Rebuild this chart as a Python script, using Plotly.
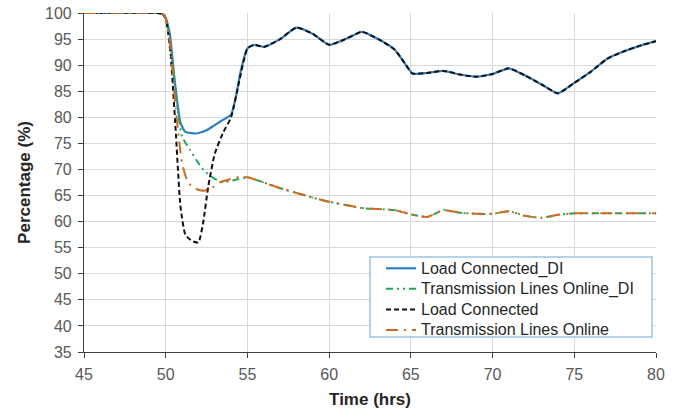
import plotly.graph_objects as go

# Load Connected_DI
t_load_di = [45, 49.5, 49.8, 50, 50.25, 50.55, 50.9, 51.2, 51.9, 52.5, 53, 53.5, 54, 54.3, 54.6, 55, 55.4, 56, 57, 58, 59, 60, 61, 62, 63, 64, 64.6, 65.1, 66, 67, 68, 69, 70, 71, 72, 73, 74, 75, 76, 77, 78, 79, 80]
y_load_di = [100, 100, 99.8, 99, 96, 87, 79, 77.2, 76.9, 77.5, 78.5, 79.5, 80.5, 84, 89, 93.2, 93.9, 93.5, 95, 97.2, 96, 93.9, 95, 96.4, 95, 93, 90.5, 88.4, 88.5, 88.9, 88.2, 87.8, 88.3, 89.4, 88, 86.3, 84.6, 86.6, 88.7, 91.2, 92.6, 93.7, 94.6]

# Load Connected
t_load = [45, 49.5, 49.8, 50, 50.3, 50.6, 50.9, 51.2, 51.6, 52, 52.3, 52.6, 53, 53.5, 54, 54.5, 55, 55.4, 56, 57, 58, 59, 60, 61, 62, 63, 64, 64.6, 65.1, 66, 67, 68, 69, 70, 71, 72, 73, 74, 75, 76, 77, 78, 79, 80]
y_load = [100, 100, 99.8, 99, 92, 78, 63, 57.5, 56.3, 56, 60, 66.7, 73, 77, 80, 87, 93.2, 93.9, 93.5, 95, 97.2, 96, 93.9, 95, 96.4, 95, 93, 90.5, 88.4, 88.5, 88.9, 88.2, 87.8, 88.3, 89.4, 88, 86.3, 84.6, 86.6, 88.7, 91.2, 92.6, 93.7, 94.6]

# Transmission Lines Online_DI
t_tl_di = [45, 49.5, 49.8, 50, 50.3, 50.6, 51.0, 51.5, 52.0, 52.4, 53.0, 53.5, 54, 54.5, 55, 56, 57, 58, 59, 60, 61, 62, 63, 64, 65, 66, 67, 68, 69, 70, 71, 72, 73, 74, 75, 76, 77, 78, 79, 80]
y_tl_di = [100, 100, 99.8, 99, 94, 85, 76.3, 73.7, 71.2, 69.6, 68.2, 67.6, 67.8, 68.2, 68.5, 67.5, 66.4, 65.5, 64.6, 63.8, 63.2, 62.6, 62.4, 62.2, 61.4, 60.9, 62.2, 61.7, 61.5, 61.5, 62.0, 61.1, 60.75, 61.3, 61.6, 61.6, 61.6, 61.6, 61.6, 61.6]

# Transmission Lines Online
t_tl = [45, 49.5, 49.8, 50, 50.3, 50.6, 51.0, 51.3, 51.6, 52.0, 52.3, 52.8, 53.3, 54, 54.5, 55, 56, 57, 58, 59, 60, 61, 62, 63, 64, 65, 66, 67, 68, 69, 70, 71, 72, 73, 74, 75, 76, 77, 78, 79, 80]
y_tl = [100, 100, 99.8, 99, 93, 82, 71.2, 68, 66.7, 66.1, 65.9, 66.4, 67.5, 68.2, 68.6, 68.5, 67.5, 66.4, 65.5, 64.6, 63.8, 63.2, 62.6, 62.4, 62.2, 61.4, 60.9, 62.2, 61.7, 61.5, 61.5, 62.0, 61.1, 60.75, 61.3, 61.6, 61.6, 61.6, 61.6, 61.6, 61.6]

series_names = ["Load Connected_DI", "Transmission Lines Online_DI", "Load Connected", "Transmission Lines Online"]

x_ticks = [45, 50, 55, 60, 65, 70, 75, 80]
y_ticks = [35, 40, 45, 50, 55, 60, 65, 70, 75, 80, 85, 90, 95, 100]

FONT = "Liberation Sans, Arial, sans-serif"
W, H = 693, 416
PW, PH = 572, 339
L, T = 84, 13
R, B = W - L - PW, H - T - PH

def px_x(p):
    return (p - L) / PW

def px_y(p):
    return (H - B - p) / PH

def lname(s):
    return '<span style="font-size:16px">' + s + '</span>'

fig = go.Figure()
fig.add_trace(go.Scatter(x=t_load_di, y=y_load_di, mode="lines", name=lname(series_names[0]),
                         line=dict(color="#2E7FC2", width=2.2, shape="spline", smoothing=0.5)))
fig.add_trace(go.Scatter(x=t_tl_di, y=y_tl_di, mode="lines", name=lname(series_names[1]),
                         line=dict(color="#22A65A", width=2, dash="7px,4px,2px,4px,2px,4px", shape="spline", smoothing=0.5)))
fig.add_trace(go.Scatter(x=t_load, y=y_load, mode="lines", name=lname(series_names[2]),
                         line=dict(color="#111111", width=2, dash="5px,3px", shape="spline", smoothing=0.5)))
fig.add_trace(go.Scatter(x=t_tl, y=y_tl, mode="lines", name=lname(series_names[3]),
                         line=dict(color="#D2691E", width=2, dash="12px,6px,2px,6px", shape="spline", smoothing=0.5)))

# legend frame
fig.add_shape(type="rect", xref="paper", yref="paper",
              x0=px_x(370), x1=px_x(652), y0=px_y(337), y1=px_y(257),
              line=dict(color="#9DC3E6", width=1.5), fillcolor="white", layer="above")

fig.update_layout(
    width=W, height=H,
    margin=dict(l=L, r=R, t=T, b=B),
    paper_bgcolor="white", plot_bgcolor="white",
    font=dict(family=FONT, color="#595959", size=16),
    showlegend=True,
    legend=dict(x=px_x(381), y=px_y(253), xanchor="left", yanchor="top",
                bgcolor="rgba(0,0,0,0)", borderwidth=0,
                font=dict(family=FONT, size=13.5, color="#262626"),
                itemwidth=30, tracegroupgap=0),
    xaxis=dict(range=[45, 80], tickvals=x_ticks, ticktext=[str(v) for v in x_ticks],
               showgrid=True, gridcolor="#D9D9D9", gridwidth=1,
               showline=True, linecolor="#404040", linewidth=1.2,
               ticks="outside", ticklen=5, tickcolor="#404040",
               ticklabelstandoff=3, ticklabeloverflow="allow",
               zeroline=False, automargin=False,
               title=dict(text="<b>Time (hrs)</b>", font=dict(family=FONT, size=17, color="#262626"), standoff=10)),
    yaxis=dict(range=[35, 100], tickvals=y_ticks, ticktext=[str(v) for v in y_ticks],
               showgrid=True, gridcolor="#D9D9D9", gridwidth=1,
               showline=True, linecolor="#404040", linewidth=1.2,
               ticks="outside", ticklen=5, tickcolor="#404040",
               ticklabelstandoff=3, ticklabeloverflow="allow",
               zeroline=False, automargin=False,
               title=dict(text="<b>Percentage (%)</b>", font=dict(family=FONT, size=17, color="#262626"), standoff=10)),
)

fig.write_html("out.html", config={"displayModeBar": False},
               post_script="document.body.style.margin='0';")
